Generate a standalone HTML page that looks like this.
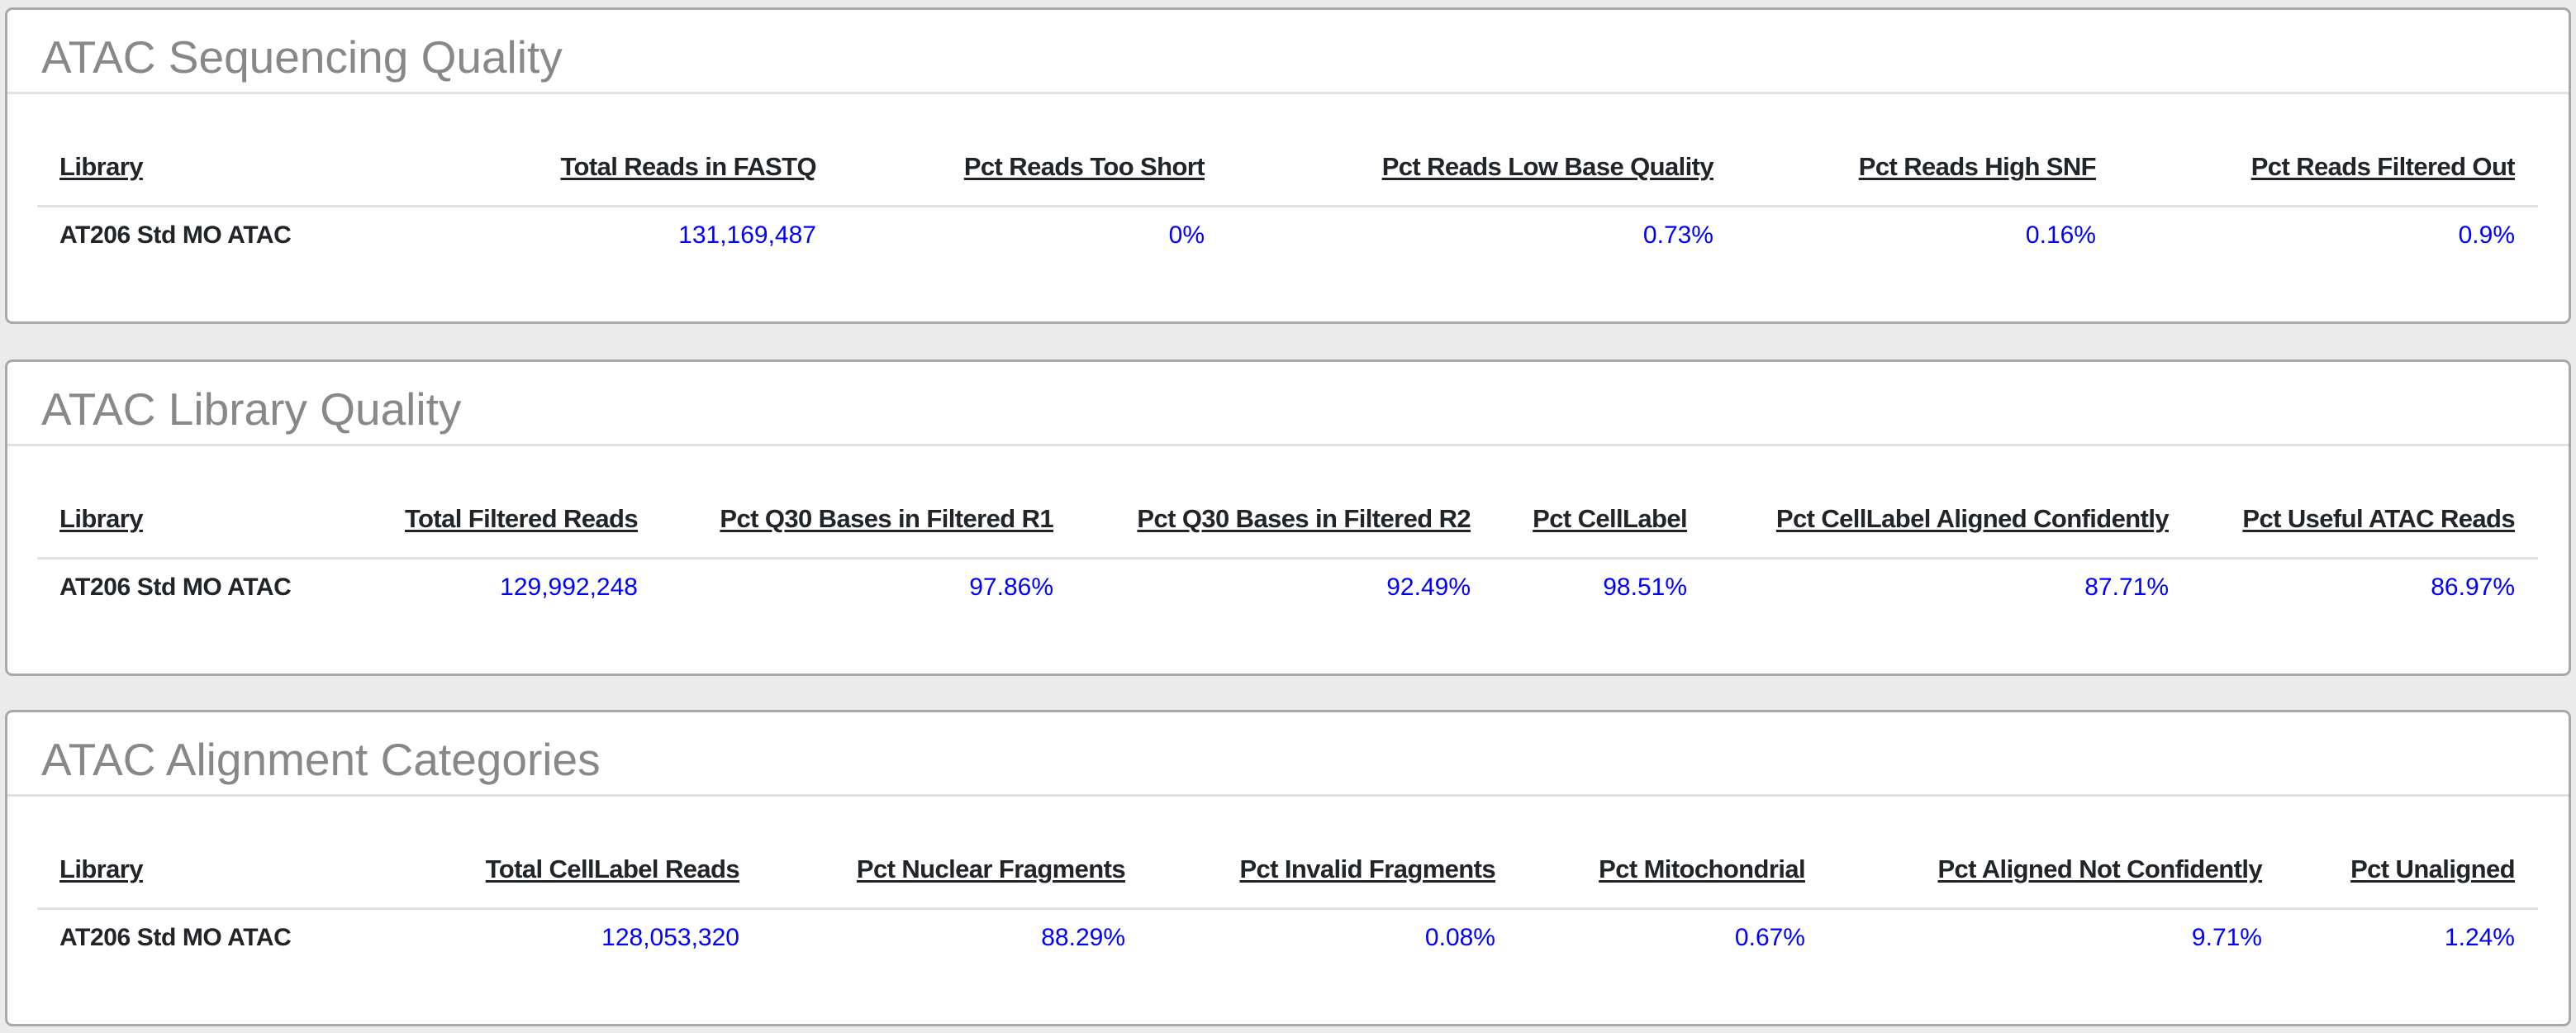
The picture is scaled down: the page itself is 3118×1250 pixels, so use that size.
<!DOCTYPE html>
<html><head><meta charset="utf-8">
<style>
html,body{margin:0;padding:0;width:3118px;height:1250px;background:#ebebeb;overflow:hidden;font-family:"Liberation Sans",Arial,sans-serif;}
.panel{position:absolute;left:6px;width:3100px;height:377px;background:#fff;border:3px solid #a8a8a8;border-radius:9px;}
.title{position:absolute;left:41px;top:30px;font-size:55px;line-height:55px;color:#888;white-space:nowrap;}
.div1{position:absolute;left:0;right:0;top:99px;height:3px;background:#e2e2e2;}
.hdr{position:absolute;top:174px;font-size:31px;line-height:31px;letter-spacing:-0.6px;font-weight:bold;color:#212529;text-decoration:underline;text-decoration-thickness:3px;text-underline-offset:3px;white-space:nowrap;}
.sep{position:absolute;left:36px;width:3027px;top:236px;height:3px;background:#e0e3e6;}
.val{position:absolute;top:258px;font-size:30px;line-height:30px;color:#0000ff;white-space:nowrap;}
.lib{color:#212529;font-weight:bold;letter-spacing:-0.4px;}
</style></head><body>
<div id="root"></div>
<script>
const panelTitles=["ATAC Sequencing Quality","ATAC Library Quality","ATAC Alignment Categories"];
const panelTops=[9,435,859];
const headers=[
["Library","Total Reads in FASTQ","Pct Reads Too Short","Pct Reads Low Base Quality","Pct Reads High SNF","Pct Reads Filtered Out"],
["Library","Total Filtered Reads","Pct Q30 Bases in Filtered R1","Pct Q30 Bases in Filtered R2","Pct CellLabel","Pct CellLabel Aligned Confidently","Pct Useful ATAC Reads"],
["Library","Total CellLabel Reads","Pct Nuclear Fragments","Pct Invalid Fragments","Pct Mitochondrial","Pct Aligned Not Confidently","Pct Unaligned"]];
const values=[
["AT206 Std MO ATAC","131,169,487","0%","0.73%","0.16%","0.9%"],
["AT206 Std MO ATAC","129,992,248","97.86%","92.49%","98.51%","87.71%","86.97%"],
["AT206 Std MO ATAC","128,053,320","88.29%","0.08%","0.67%","9.71%","1.24%"]];
const rightEdges=[
[0,988,1458,2074,2537,3044],
[0,772,1275,1780,2042,2625,3044],
[0,895,1362,1810,2185,2738,3044]];
const root=document.getElementById('root');
for(let p=0;p<3;p++){
  const pan=document.createElement('div');
  pan.className='panel';
  pan.style.top=panelTops[p]+'px';
  
  
  const t=document.createElement('div');
  t.className='title';t.textContent=panelTitles[p];
  
  
  pan.appendChild(t);
  const d=document.createElement('div');d.className='div1';
  
  
  pan.appendChild(d);
  const s=document.createElement('div');s.className='sep';
  
  
  pan.appendChild(s);
  for(let c=0;c<headers[p].length;c++){
    const h=document.createElement('div');h.className='hdr';h.textContent=headers[p][c];
    
    
    const v=document.createElement('div');v.className='val'+(c===0?' lib':'');v.textContent=values[p][c];
    
    
    if(c===0){h.style.left='63px';v.style.left='63px';}
    else{const r=(3109-rightEdges[p][c])+'px';h.style.right=r;v.style.right=r;}
    pan.appendChild(h);pan.appendChild(v);
  }
  root.appendChild(pan);
}
</script>
</body></html>
